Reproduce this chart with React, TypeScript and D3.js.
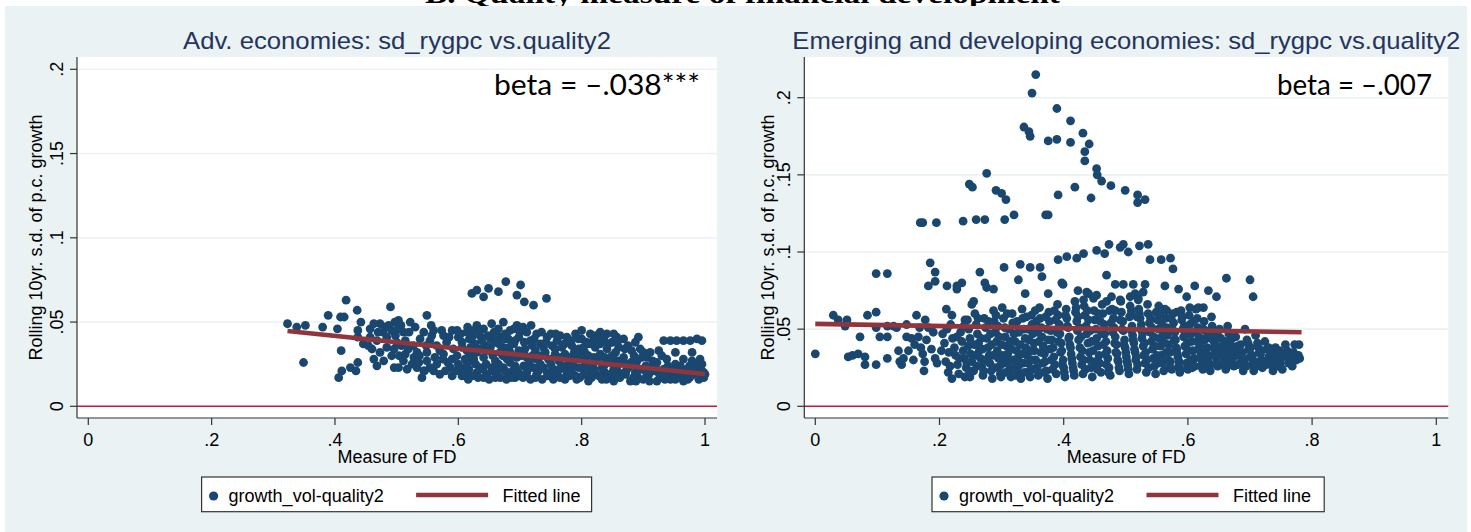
import React from "react";
import * as d3 from "d3";

// ---------- data (values in thousandths: [x‰, y‰]) ----------
const xTicks = [0, 0.2, 0.4, 0.6, 0.8, 1];
const xTickLabels = ["0", ".2", ".4", ".6", ".8", "1"];
const yTicks = [0, 0.05, 0.1, 0.15, 0.2];
const yTickLabels = ["0", ".05", ".1", ".15", ".2"];

const advTitle = "Adv. economies: sd_rygpc vs.quality2";
const emdTitle = "Emerging and developing economies: sd_rygpc vs.quality2";
const advBeta = "beta = \u2013.038***";
const emdBeta = "beta = \u2013.007";
const xTitle = "Measure of FD";
const yTitle = "Rolling 10yr. s.d. of p.c. growth";
const legendLabels = ["growth_vol-quality2", "Fitted line"];
const topTitle = "B. Quality measure of financial development";

const advPoints: number[][] = [
  [323,49],[338,47],[352,48],[349,26],[380,47],[389,54],[404,46],[409,53],[415,53],[418,63],[410,33],[406,17],
  [411,21],[425,23],[437,26],[434,21],[436,57],[437,45],[442,50],[446,37],[437,41],[457,46],
  [460,34],[463,28],[468,24],[479,27],[490,59],[496,23],[503,23],[517,22],[533,23],[541,17],[545,21],[463,49],
  [473,49],[481,47],[487,48],[492,45],[503,51],[507,48],[511,44],[522,50],[498,42],[484,41],[500,38],[508,36],
  [496,34],[514,39],[527,36],[519,34],[533,32],[538,40],[536,26],[525,25],[511,27],[492,30],[473,32],[468,39],
  [457,41],[497,50],[502,46],[470,44],
  [549,54],[544,44],[560,45],[573,45],[576,42],[598,45],[614,44],[554,39],[565,36],[581,38],[592,34],[606,38],
  [614,33],[549,32],[562,29],[576,31],[590,28],[598,30],[611,28],[549,27],[554,23],[565,25],[587,23],[590,18],
  [606,18],[617,22],[579,21],[544,21],[619,27],[556,48],[585,41],[600,41],[570,33],[583,26],[600,25],[610,20],
  [596,21],[570,19],
  [630,48],[654,49],[673,50],[695,48],[625,45],[641,46],[665,46],[684,45],[700,44],[622,41],[635,42],[652,40],
  [668,41],[681,40],[698,41],[627,37],[644,36],[660,38],[673,35],[690,37],[630,32],[649,33],[668,32],[684,32],
  [698,33],[625,28],[641,29],[660,27],[679,28],[695,29],[635,23],[654,23],[673,23],[692,24],[630,20],[646,19],
  [663,20],[681,19],[698,20],[641,17],[668,17],[692,17],[658,44],[676,43],[690,46],[638,39],[666,37],[682,35],
  [656,30],[672,30],[620,35],[645,25],[665,25],[684,26],[622,18],[655,21],[688,21],[700,18],[650,16],[678,16],
  [622,67],[630,69],[641,65],[649,70],[665,68],[677,74],[695,66],[701,72],[707,62],[722,60],[743,64],
  [711,44],[727,43],[744,41],[760,39],[776,41],[717,39],[733,37],[752,36],[768,35],[708,34],[725,33],[741,32],
  [757,31],[773,31],[711,29],[727,28],[746,28],[763,27],[779,26],[706,24],[722,23],[738,23],[754,22],[771,23],
  [711,20],[727,19],[744,20],[760,19],[776,20],[717,16],[736,16],[754,16],[773,16],[705,47],[718,48],[735,44],
  [750,43],[765,42],[720,36],[738,35],[757,34],[715,26],[733,25],[750,25],[768,24],[705,17],[725,17],[745,18],
  [765,17],[780,18],
  [790,43],[814,43],[830,44],[841,43],[852,43],[857,41],[800,40],[819,39],[836,40],[849,38],[784,36],[803,35],
  [822,35],[841,34],[860,35],[792,31],[811,30],[830,31],[849,30],[787,27],[806,26],[825,27],[844,26],[860,27],
  [795,23],[814,22],[833,23],[852,22],[784,20],[803,19],[822,20],[841,19],[860,20],[792,16],[811,15],[833,16],
  [852,15],[800,45],[822,42],[808,38],[795,34],[830,37],[855,32],[800,29],[818,24],[838,25],[858,24],[790,18],
  [810,18],[828,18],[848,17],[862,17],
  [868,40],[887,38],[900,32],[911,32],[925,33],[933,39],[944,39],[954,39],[965,39],[976,39],[987,40],[995,39],
  [952,32],[979,32],[965,28],[979,27],[992,28],[881,33],[868,29],[890,27],[906,29],[922,26],[938,28],[952,25],
  [876,23],[895,22],[914,23],[933,22],[952,21],[971,22],[990,23],[871,19],[890,18],[909,19],[927,18],[946,19],
  [965,18],[984,19],[998,20],[879,15],[900,16],[922,15],[944,16],[965,15],[990,16],[995,21],[875,36],[895,34],
  [880,26],[915,27],[930,30],[960,24],[985,25],[884,17],[905,17],[918,21],[935,16],[955,17],[975,17],[998,17],
  [940,20],[962,20],[978,20],[1000,19],
  // denser core
  [615,47],[633,44],[648,42],[662,42],[676,40],[692,39],[606,35],[618,31],[636,34],[652,35],[670,33],[686,30],
  [702,30],[614,25],[628,25],[640,22],[660,22],[676,21],[694,22],[606,22],[616,16],[632,17],[660,17],[686,17],
  [707,38],[723,40],[742,38],[758,43],[772,37],[783,39],[707,31],[720,30],[735,30],[750,28],[766,29],[782,29],
  [713,22],[730,21],[748,20],[764,22],[780,21],[795,40],[812,37],[827,40],[843,37],[858,38],[788,32],[805,32],
  [820,29],[837,29],[852,28],[786,24],[802,23],[820,22],[836,21],[850,20],[797,17],[816,17],[840,16],[856,18],
  [872,25],[888,24],[904,24],[920,23],[940,24],[958,22],[975,24],[995,25],[872,21],[887,20],[903,21],[925,20],
  [945,22],[968,21],[986,21],[888,15],[910,15],[930,17],[952,16],[972,16],[990,19],[885,30],[898,29],[870,34],
  [892,41],[520,44],[530,47],[548,36],[557,42],[590,45],[604,43],[575,28],[560,21],[537,30],[528,29],[514,31],
  [504,30],[484,35],[478,44],[454,36],[618,40],[617,29],
];

const emdPoints: number[][] = [
  // low FD
  [0,34],[29,59],[37,56],[51,56],[48,52],[53,32],[60,33],[69,34],[72,45],[80,32],[80,27],[84,59],[98,61],[98,27],
  [98,86],[116,86],[98,51],[104,45],[116,45],[116,52],[116,31],[126,52],[131,51],[134,36],[136,29],[139,27],
  [142,31],[147,53],[147,45],[155,44],[163,59],[166,45],[168,51],[173,34],[175,23],[177,56],[179,43],[182,51],
  [185,93],[193,87],[193,81],[182,78],[190,48],[193,31],[196,28],[169,119],[173,119],[195,119],[160,40],[150,36],
  [158,30],[170,38],[187,37],[176,29],
  // high outliers
  [355,215],[349,203],[389,193],[411,185],[431,177],[441,170],[336,181],[344,178],[346,175],[375,172],[389,173],
  [411,171],[434,165],[434,159],[453,154],[454,150],[461,146],[476,143],[499,140],[519,137],[519,132],[531,134],
  [418,142],[391,137],[444,135],[276,151],[248,144],[253,142],[291,140],[300,138],[307,134],[238,120],[259,121],
  [273,121],[305,121],[320,124],[371,124],[375,124],[391,95],[405,97],[421,96],[432,99],[453,101],[466,99],
  [473,105],[491,103],[496,105],[504,100],[522,104],[536,105],[557,95],[572,96],
  [304,90],[330,92],[327,82],[346,90],[362,90],[365,84],[539,95],[576,89],
  [338,73],[375,73],[399,79],[423,75],[437,74],[453,72],[469,85],[483,79],[496,79],[512,79],[531,79],[528,74],
  [563,78],[585,76],[598,71],[611,78],[633,75],[646,71],[662,83],[700,82],[705,71],
  [212,78],[228,78],[236,80],[228,76],[265,87],[273,80],[276,77],[287,76],[211,63],[220,59],[241,56],[255,68],
  [252,66],[397,80],[432,69],[440,73],[469,68],[491,69],[507,71],[520,69],[483,62],[509,62],[518,58],[553,65],
  [566,62],[582,61],[603,64],[617,64],[625,64],[515,73],
  // dense core
  [205,47],[208,41],[203,36],[210,29],[214,22],[218,53],[221,44],[224,38],[226,33],[229,27],[231,21],[234,48],
  [236,42],[238,36],[240,31],[243,25],[245,56],[247,50],[249,44],[246,39],[250,34],[241,19],[220,18],[249,19],
  [252,29],[255,23],[257,60],[259,53],[261,47],[263,41],[264,36],[266,31],[268,26],[270,20],[272,57],[274,51],
  [276,44],[278,38],[280,33],[281,28],[283,23],[285,18],[287,62],[288,55],[290,48],[292,42],[293,36],[295,31],
  [297,26],[298,21],[299,19],
  [301,64],[303,57],[305,51],[306,45],[308,39],[310,34],[311,29],[313,24],[315,19],[317,60],[318,54],[320,47],
  [322,42],[324,36],[326,31],[327,26],[329,21],[331,18],[333,63],[334,57],[336,50],[338,44],[339,38],[341,33],
  [343,28],[345,23],[346,19],[348,59],[349,53],[350,47],
  [352,41],[353,36],[355,30],[357,25],[359,20],[361,64],[362,57],[364,51],[365,45],[367,39],[369,34],[370,29],
  [372,23],[374,18],[376,61],[377,55],[379,49],[381,43],[383,38],[384,32],[386,27],[388,21],[390,66],[391,59],
  [393,53],[394,47],[396,41],[397,36],[399,30],[400,25],
  [402,19],[404,63],[405,57],[407,51],[409,45],[410,40],[412,34],[414,28],[416,23],[418,68],[419,61],[421,55],
  [422,49],[424,43],[426,38],[427,32],[429,27],[431,21],[433,65],[434,59],[436,52],[437,47],[439,41],[441,35],
  [442,30],[444,25],[446,19],[448,70],[449,62],[450,56],
  [452,50],[453,44],[455,39],[457,33],[458,28],[460,22],[462,66],[463,60],[465,53],[466,47],[468,42],[470,36],
  [471,31],[473,25],[475,20],[477,71],[478,63],[480,57],[481,51],[483,45],[485,40],[486,34],[488,29],[490,23],
  [492,68],[493,61],[495,55],[496,49],[498,43],[499,38],
  [501,32],[503,27],[505,21],[507,65],[508,59],[510,52],[511,46],[513,41],[515,35],[516,30],[518,24],[520,70],
  [521,63],[523,57],[524,50],[526,44],[528,39],[529,33],[531,28],[533,22],[535,66],[536,60],[538,54],[539,48],
  [541,42],[543,37],[544,31],[546,26],[548,21],[549,61],
  [551,56],[553,50],[554,44],[556,39],[557,33],[559,28],[561,23],[563,63],[564,57],[566,51],[567,46],[569,40],
  [571,35],[572,29],[574,24],[576,60],[577,54],[579,48],[580,43],[582,37],[584,32],[585,26],[587,22],[589,62],
  [590,56],[592,50],[593,45],[595,39],[597,34],[598,28],
  [600,24],[602,59],[603,53],[605,47],[606,42],[608,36],[610,31],[611,26],[613,63],[615,57],[616,51],[618,45],
  [619,40],[621,34],[623,29],[624,24],[626,55],[628,49],[629,44],[631,38],[633,33],[634,28],[636,23],[638,58],
  [639,52],[641,46],[643,41],[644,36],[646,31],[648,26],
  [651,50],[653,44],[655,39],[657,34],[659,29],[661,24],[664,52],[666,47],[668,41],[670,36],[672,31],[674,26],
  [677,45],[680,39],[683,34],[686,29],[689,23],[692,50],[695,43],[698,37],[700,32],[703,27],[706,23],[709,46],
  [712,41],[715,35],[718,30],[720,25],
  [724,42],[727,37],[730,32],[733,27],[737,23],[741,38],[745,33],[749,28],[753,32],[757,40],[760,36],[764,31],
  [768,26],[772,40],[776,31],[779,40],[780,31],[775,30],
  // further core points
  [212,50],[215,35],[217,26],[228,45],[232,31],[239,52],[244,28],[248,23],[256,40],[258,33],[260,26],[262,57],
  [267,44],[269,37],[271,23],[275,30],[279,55],[282,47],[284,40],[286,33],[289,25],[291,59],[294,52],[296,45],
  [300,40],[302,33],[304,28],[307,22],[309,60],[312,50],[314,42],[316,37],[319,30],[321,25],[323,20],[325,55],
  [328,48],[330,40],[332,34],[335,28],[337,22],[340,58],[342,50],[344,43],[347,36],[349,30],[351,24],[354,62],
  [356,55],[358,48],[360,42],[363,35],[366,28],[368,22],[371,58],[373,50],[375,43],[378,37],[380,30],[382,24],
  [385,62],[387,56],[389,48],[392,42],[395,35],[398,27],[401,22],[403,59],[406,52],[408,44],[411,38],[413,31],
  [415,25],[417,20],[420,64],[423,58],[425,51],[428,45],[430,36],[432,30],[435,24],[438,62],[440,56],[443,49],
  [445,42],[447,36],[451,29],[454,24],[456,60],[459,55],[461,47],[464,40],[467,34],[469,27],[472,22],[474,62],
  [476,54],[479,48],[482,41],[484,35],[487,30],[489,25],[491,56],[494,50],[497,40],[500,35],[502,29],[504,24],
  [506,58],[509,49],[512,43],[514,37],[517,32],[519,27],[522,60],[525,53],[527,47],[530,41],[532,35],[534,30],
  [537,25],[540,57],[542,51],[545,45],[547,39],[550,33],[552,28],[555,60],[558,53],[560,46],[562,41],[565,35],
  [568,30],[570,25],[573,57],[575,50],[578,43],[581,38],[583,34],[586,29],[588,24],[591,58],[594,52],[596,46],
  [599,41],[601,36],[604,30],[607,25],[609,55],[612,48],[614,42],[617,37],[620,31],[622,26],[625,50],[627,43],
  [630,37],[632,31],[635,26],[637,48],[640,43],[642,38],[645,33],[647,28],[650,45],[652,38],[654,33],[656,27],
  [660,42],[663,37],[665,32],[667,27],[671,44],[675,38],[678,33],[681,27],[685,40],[688,35],[691,30],[694,26],
  [697,41],[701,38],[704,33],[708,29],[711,26],[714,38],[717,34],[721,29],[726,27],[730,38],[735,34],[739,30],
  [744,26],[748,36],[752,24],[762,28],[770,35],[778,33],
];

const advFitX = [0.323, 1.0];
const advFitY = [0.0447, 0.0192];
const emdFitX = [0.0, 0.783];
const emdFitY = [0.0534, 0.048];

// ---------- styling ----------
const BG = "#eaf2f3";
const NAVY = "#1a476f";
const MAROON = "#90353b";
const ZERO = "#c8173c";
const AXIS = "#333333";
const TITLE = "#24345f";
const SANS = "'Liberation Sans', Arial, Helvetica, sans-serif";

type PanelProps = {
  points: number[][];
  fitX: number[];
  fitY: number[];
  title: string;
  titleLen: number;
  beta: string;
  betaX: number;
  betaLen: number;
  box: { x0: number; x1: number; y0: number; y1: number };
  xRange: [number, number];
  yRange: [number, number];
  yTitleX: number;
  legendX: number;
  legendW: number;
};

function Panel(p: PanelProps) {
  const { box } = p;
  const x = d3.scaleLinear().domain([0, 1]).range(p.xRange);
  const y = d3.scaleLinear().domain([0, 0.2]).range(p.yRange);
  const cx = (box.x0 + box.x1) / 2;
  const cy = (box.y0 + box.y1) / 2;
  const line = d3
    .line<number>()
    .x((_, i) => x(p.fitX[i]))
    .y((_, i) => y(p.fitY[i]));
  const lx = p.legendX;
  return (
    <g>
      <rect x={box.x0} y={box.y0} width={box.x1 - box.x0} height={box.y1 - box.y0} fill="#ffffff" />
      {yTicks.slice(1).map((t) => (
        <line key={t} x1={box.x0} x2={box.x1} y1={y(t)} y2={y(t)} stroke={BG} strokeWidth={1.6} />
      ))}
      <line x1={box.x0} x2={box.x1} y1={y(0)} y2={y(0)} stroke={ZERO} strokeWidth={1.6} />
      {p.points.map((d, i) => (
        <circle key={i} cx={x(d[0] / 1000)} cy={y(d[1] / 1000)} r={4.4} fill={NAVY} />
      ))}
      <path d={line(p.fitX) || ""} stroke={MAROON} strokeWidth={4.6} fill="none" />
      {/* axes */}
      <line x1={box.x0} x2={box.x0} y1={box.y0} y2={box.y1} stroke={AXIS} strokeWidth={1.2} />
      <line x1={box.x0} x2={box.x1} y1={box.y1} y2={box.y1} stroke={AXIS} strokeWidth={1.2} />
      {yTicks.map((t, i) => (
        <g key={t}>
          <line x1={box.x0 - 7} x2={box.x0} y1={y(t)} y2={y(t)} stroke={AXIS} strokeWidth={1.2} />
          <text
            transform={`translate(${box.x0 - 14},${y(t)}) rotate(-90)`}
            textAnchor="middle"
            fontFamily={SANS}
            fontSize={18}
            fill="#000"
          >
            {yTickLabels[i]}
          </text>
        </g>
      ))}
      {xTicks.map((t, i) => (
        <g key={t}>
          <line x1={x(t)} x2={x(t)} y1={box.y1} y2={box.y1 + 7} stroke={AXIS} strokeWidth={1.2} />
          <text x={x(t)} y={446} textAnchor="middle" fontFamily={SANS} fontSize={18} fill="#000">
            {xTickLabels[i]}
          </text>
        </g>
      ))}
      <text x={cx} y={463} textAnchor="middle" fontFamily={SANS} fontSize={18} fill="#000">
        {xTitle}
      </text>
      <text
        transform={`translate(${p.yTitleX},${cy}) rotate(-90)`}
        textAnchor="middle"
        fontFamily={SANS}
        fontSize={18}
        fill="#000"
      >
        {yTitle}
      </text>
      <text
        x={cx}
        y={49}
        textAnchor="middle"
        fontFamily={SANS}
        fontSize={24.5}
        fill={TITLE}
        textLength={p.titleLen}
        lengthAdjust="spacingAndGlyphs"
      >
        {p.title}
      </text>
      <text
        x={p.betaX}
        y={95}
        fontFamily="Lato, 'Open Sans', sans-serif"
        fontSize={29}
        fill="#000"
        textLength={p.betaLen}
        lengthAdjust="spacingAndGlyphs"
      >
        {p.beta}
      </text>
      {/* legend */}
      <rect x={lx} y={477} width={p.legendW} height={34.7} fill="#ffffff" stroke={AXIS} strokeWidth={1.2} />
      <circle cx={lx + 12} cy={496} r={4.6} fill={NAVY} />
      <text x={lx + 27} y={502} fontFamily={SANS} fontSize={18} fill="#000">
        {legendLabels[0]}
      </text>
      <line x1={lx + 214.5} x2={lx + 286.5} y1={495} y2={495} stroke={MAROON} strokeWidth={4.4} />
      <text x={lx + 301} y={502} fontFamily={SANS} fontSize={18} fill="#000">
        {legendLabels[1]}
      </text>
    </g>
  );
}

export default function App() {
  const W = 1471;
  const H = 532;
  return (
    <svg
      width={W}
      height={H}
      style={{ position: "absolute", left: 0, top: 0, display: "block" }}
      xmlns="http://www.w3.org/2000/svg"
    >
      <rect x={0} y={0} width={W} height={H} fill="#ffffff" />
      <text
        x={425}
        y={3}
        fontFamily="'Liberation Serif', 'Times New Roman', serif"
        fontWeight="bold"
        fontSize={28}
        fill="#000"
        textLength={635}
        lengthAdjust="spacingAndGlyphs"
      >
        {topTitle}
      </text>
      <rect x={5} y={6} width={1462} height={H - 6} fill={BG} />
      <Panel
        points={advPoints}
        fitX={advFitX}
        fitY={advFitY}
        title={advTitle}
        titleLen={428}
        beta={advBeta}
        betaX={494}
        betaLen={206}
        box={{ x0: 77, x1: 717, y0: 57, y1: 418 }}
        xRange={[88.3, 705]}
        yRange={[406.3, 69.3]}
        yTitleX={42}
        legendX={201.6}
        legendW={390}
      />
      <Panel
        points={emdPoints}
        fitX={emdFitX}
        fitY={emdFitY}
        title={emdTitle}
        titleLen={668}
        beta={emdBeta}
        betaX={1277}
        betaLen={155}
        box={{ x0: 804.3, x1: 1448.3, y0: 57, y1: 418 }}
        xRange={[815.3, 1436.3]}
        yRange={[406.3, 97.7]}
        yTitleX={773.5}
        legendX={932}
        legendW={392.2}
      />
    </svg>
  );
}
